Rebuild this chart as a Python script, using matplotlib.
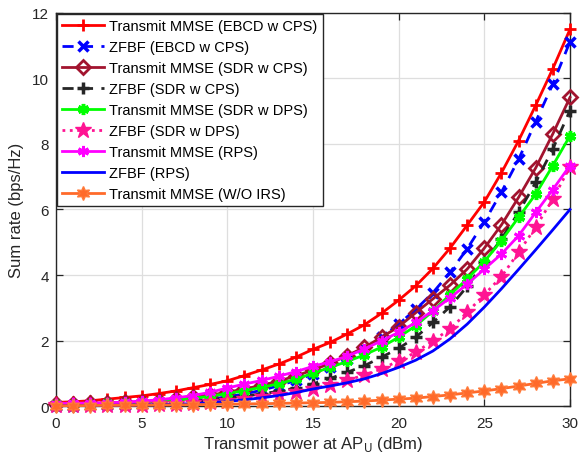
import numpy as np
import matplotlib
matplotlib.use("Agg")
import matplotlib.pyplot as plt

plt.rcParams['font.family'] = ['Liberation Sans', 'DejaVu Sans']

power_dbm = list(range(0, 31))

mmse_ebcd_cps = [0.11, 0.13, 0.16, 0.21, 0.26, 0.31, 0.38, 0.46, 0.56, 0.66, 0.77,
                 0.93, 1.10, 1.28, 1.49, 1.73, 1.94, 2.20, 2.48, 2.83, 3.23,
                 3.67, 4.20, 4.82, 5.52, 6.23, 7.12, 8.10, 9.18, 10.30, 11.50]
zfbf_ebcd_cps = [0.01, 0.015, 0.02, 0.03, 0.04, 0.06, 0.08, 0.11, 0.15, 0.21, 0.28,
                 0.37, 0.48, 0.62, 0.78, 0.97, 1.20, 1.45, 1.75, 2.10, 2.50,
                 2.95, 3.46, 4.08, 4.80, 5.62, 6.53, 7.53, 8.68, 9.83, 11.12]
mmse_sdr_cps = [0.06, 0.07, 0.08, 0.09, 0.11, 0.13, 0.16, 0.20, 0.26, 0.33, 0.42,
                0.52, 0.63, 0.76, 0.92, 1.10, 1.30, 1.54, 1.79, 2.10, 2.42,
                2.85, 3.27, 3.69, 4.18, 4.82, 5.53, 6.37, 7.27, 8.31, 9.42]
zfbf_sdr_cps = [0.03, 0.035, 0.04, 0.05, 0.06, 0.07, 0.09, 0.11, 0.14, 0.18, 0.24,
                0.30, 0.37, 0.45, 0.55, 0.68, 0.84, 1.03, 1.23, 1.49, 1.76,
                2.10, 2.55, 3.03, 3.65, 4.39, 5.10, 5.91, 6.83, 7.85, 9.02]
mmse_sdr_dps = [0.05, 0.06, 0.07, 0.08, 0.09, 0.11, 0.14, 0.18, 0.23, 0.30, 0.38,
                0.47, 0.57, 0.68, 0.82, 1.00, 1.18, 1.36, 1.56, 1.80, 2.10,
                2.45, 2.90, 3.40, 3.88, 4.41, 5.05, 5.76, 6.47, 7.34, 8.25]
zfbf_sdr_dps = [0.02, 0.022, 0.025, 0.03, 0.035, 0.04, 0.05, 0.06, 0.08, 0.11, 0.15,
                0.20, 0.26, 0.33, 0.42, 0.53, 0.65, 0.78, 0.95, 1.13, 1.38,
                1.64, 1.99, 2.35, 2.86, 3.40, 3.95, 4.69, 5.46, 6.32, 7.30]
mmse_rps = [0.07, 0.08, 0.09, 0.10, 0.12, 0.15, 0.19, 0.25, 0.32, 0.42, 0.55,
            0.67, 0.78, 0.91, 1.05, 1.21, 1.35, 1.52, 1.74, 1.99, 2.25,
            2.55, 2.91, 3.30, 3.72, 4.18, 4.64, 5.20, 5.91, 6.61, 7.34]
zfbf_rps = [0.01, 0.012, 0.015, 0.02, 0.025, 0.03, 0.04, 0.055, 0.07, 0.10, 0.14,
            0.19, 0.25, 0.32, 0.41, 0.52, 0.61, 0.71, 0.83, 0.99, 1.18,
            1.40, 1.68, 2.05, 2.50, 3.02, 3.58, 4.17, 4.77, 5.38, 6.00]
mmse_no_irs = [0.01, 0.01, 0.015, 0.02, 0.02, 0.025, 0.03, 0.035, 0.04, 0.05, 0.055,
               0.065, 0.07, 0.08, 0.09, 0.10, 0.11, 0.13, 0.15, 0.18, 0.21,
               0.24, 0.29, 0.34, 0.40, 0.46, 0.53, 0.61, 0.69, 0.77, 0.83]

x_ticks = [0, 5, 10, 15, 20, 25, 30]
y_ticks = [0, 2, 4, 6, 8, 10, 12]

fig = plt.figure(figsize=(5.81, 4.60), dpi=100)
ax = fig.add_axes([0.0964, 0.1152, 0.8846, 0.8544])

hexagram = (6, 1, 0)
series = [
    (mmse_ebcd_cps, 'Transmit MMSE (EBCD w CPS)',
     dict(color='#FF0000', ls='-', marker='+', ms=9, mew=2.0, lw=2.0)),
    (zfbf_ebcd_cps, 'ZFBF (EBCD w CPS)',
     dict(color='#0000FF', ls=(0, (4, 3)), marker='x', ms=6.5, mew=2.5, lw=2.0)),
    (mmse_sdr_cps, 'Transmit MMSE (SDR w CPS)',
     dict(color='#A2142F', ls='-', marker='D', ms=7, mew=2.0, lw=2.0, mfc='none')),
    (zfbf_sdr_cps, 'ZFBF (SDR w CPS)',
     dict(color='#262626', ls=(0, (4, 3)), marker='+', ms=9, mew=2.5, lw=2.0)),
    (mmse_sdr_dps, 'Transmit MMSE (SDR w DPS)',
     dict(color='#00FF00', ls='-', marker=(6, 2, 0), ms=8, mew=2.5, lw=2.0)),
    (zfbf_sdr_dps, 'ZFBF (SDR w DPS)',
     dict(color='#FF1493', ls=':', marker='*', ms=12, mew=1.0, lw=2.0)),
    (mmse_rps, 'Transmit MMSE (RPS)',
     dict(color='#FF00FF', ls='-', marker=(6, 2, 0), ms=8, mew=2.0, lw=2.0)),
    (zfbf_rps, 'ZFBF (RPS)',
     dict(color='#0000FF', ls='-', lw=2.0)),
    (mmse_no_irs, 'Transmit MMSE (W/O IRS)',
     dict(color='#FF6A2A', ls='-', marker=hexagram, ms=10, mew=1.0, lw=2.0,
          mfc='#FF6A2A', mec='#FF7A3A')),
]

for vals, label, style in series:
    ax.plot(power_dbm, vals, label=label, clip_on=False, zorder=3, **style)

ax.set_xlim(0, 30)
ax.set_ylim(0, 12)
ax.set_xticks(x_ticks)
ax.set_yticks(y_ticks)
ax.grid(True, color='#DEDEDE', lw=0.9)
ax.set_axisbelow(True)
ax.tick_params(direction='in', top=True, right=True, labelsize=11,
               colors='#262626', length=5, width=0.9)
ax.tick_params(axis='x', pad=7)
ax.tick_params(axis='y', pad=5)
for sp in ax.spines.values():
    sp.set_color('#262626')
    sp.set_linewidth(1.0)

ax.set_xlabel('Transmit power at AP$_\\mathrm{U}$ (dBm)', fontsize=12, color='#262626', labelpad=3)
ax.set_ylabel('Sum rate (bps/Hz)', fontsize=12, color='#262626', labelpad=6)

leg = ax.legend(loc='upper left', fontsize=10.5, frameon=True, fancybox=False,
                edgecolor='#262626', framealpha=1.0, borderaxespad=0.05,
                handlelength=2.9, handletextpad=0.35, labelspacing=0.48,
                borderpad=0.35)
leg.get_frame().set_linewidth(1.0)
leg.set_zorder(5)

fig.savefig('out.png', dpi=100)
